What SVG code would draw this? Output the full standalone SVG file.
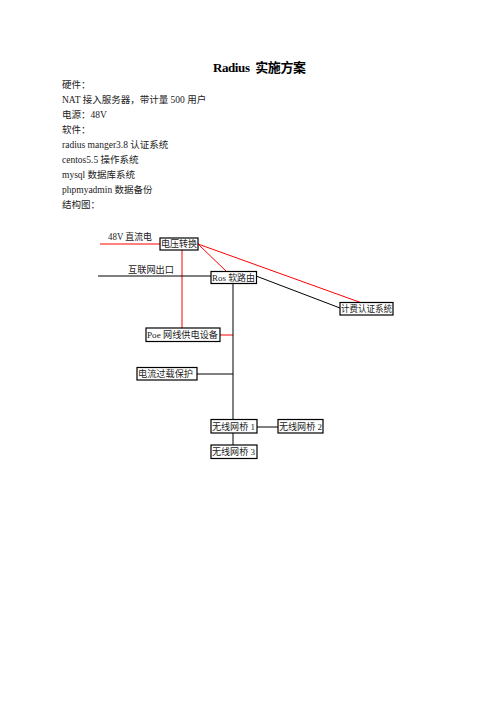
<svg xmlns="http://www.w3.org/2000/svg" width="496" height="702" viewBox="0 0 496 702">
<style>
text{font-family:"Liberation Serif","Noto Sans CJK SC",serif;font-size:9.5px;fill:#222}
.title{font-size:13px;font-weight:bold;fill:#000}
.bt{font-size:9px}
.box{fill:#fff;stroke:#000;stroke-width:1.2}
.bl{stroke:#000;stroke-width:1;fill:none}
.rd{stroke:#f00;stroke-width:1;fill:none}
</style>
<rect width="496" height="702" fill="#fff"/>
<text class="title" x="213" y="72" xml:space="preserve" textLength="93" lengthAdjust="spacing">Radius  实施方案</text>
<g id="body">
<text x="62" y="87.5">硬件：</text>
<text x="62" y="102.6">NAT 接入服务器，带计量 500 用户</text>
<text x="62" y="117.7">电源：48V</text>
<text x="62" y="132.8">软件：</text>
<text x="62" y="147.9">radius manger3.8 认证系统</text>
<text x="62" y="163">centos5.5 操作系统</text>
<text x="62" y="178.1">mysql 数据库系统</text>
<text x="62" y="193.2">phpmyadmin 数据备份</text>
<text x="62" y="208.3">结构图：</text>
</g>
<g id="connectors">
<line class="rd" x1="100" y1="244" x2="160" y2="244"/>
<line class="rd" x1="182" y1="250" x2="182" y2="328"/>
<line class="rd" x1="198" y1="244" x2="227" y2="272"/>
<line class="rd" x1="198" y1="244" x2="362" y2="303"/>
<line class="rd" x1="220" y1="335" x2="233" y2="335"/>
<line class="bl" x1="98" y1="276" x2="211" y2="276"/>
<line class="bl" x1="256" y1="276" x2="340" y2="308"/>
<line class="bl" x1="233" y1="283" x2="233" y2="419"/>
<line class="bl" x1="197" y1="374" x2="233" y2="374"/>
<line class="bl" x1="257" y1="427" x2="278" y2="427"/>
<line class="bl" x1="233" y1="433" x2="233" y2="445"/>
</g>
<text x="108" y="239.5" textLength="44" lengthAdjust="spacingAndGlyphs">48V 直流电</text>
<text x="128" y="273" textLength="46" lengthAdjust="spacingAndGlyphs">互联网出口</text>
<g id="n-dianya"><rect class="box" x="160" y="238" width="38" height="12"/><text class="bt" x="161" y="247.3" textLength="36" lengthAdjust="spacingAndGlyphs">电压转换</text></g>
<g id="n-ros"><rect class="box" x="211" y="271.5" width="45.5" height="12"/><text class="bt" x="212" y="280.8" textLength="43" lengthAdjust="spacingAndGlyphs">Ros 软路由</text></g>
<g id="n-jifei"><rect class="box" x="340" y="302.5" width="53" height="12.5"/><text class="bt" x="341" y="312" textLength="51" lengthAdjust="spacingAndGlyphs">计费认证系统</text></g>
<g id="n-poe"><rect class="box" x="146" y="328" width="74" height="13.5"/><text class="bt" x="147" y="338" textLength="71" lengthAdjust="spacingAndGlyphs">Poe 网线供电设备</text></g>
<g id="n-guozai"><rect class="box" x="137" y="367.5" width="60" height="12.5"/><text class="bt" x="138" y="377" textLength="55" lengthAdjust="spacingAndGlyphs">电流过载保护</text></g>
<g id="n-qiao1"><rect class="box" x="211" y="419.5" width="46" height="13.5"/><text class="bt" x="212" y="429.5" textLength="43" lengthAdjust="spacingAndGlyphs">无线网桥 1</text></g>
<g id="n-qiao2"><rect class="box" x="278" y="419.5" width="45" height="13.5"/><text class="bt" x="279" y="429.5" textLength="43" lengthAdjust="spacingAndGlyphs">无线网桥 2</text></g>
<g id="n-qiao3"><rect class="box" x="211" y="445" width="46" height="13.5"/><text class="bt" x="212" y="455" textLength="43" lengthAdjust="spacingAndGlyphs">无线网桥 3</text></g>
</svg>
